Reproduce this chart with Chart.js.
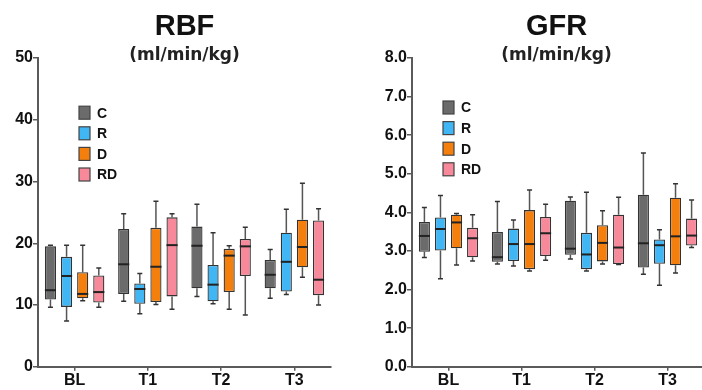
<!DOCTYPE html>
<html lang="en">
<head>
  <meta charset="UTF-8">
  <title>RBF / GFR</title>
  <script src="https://cdn.jsdelivr.net/npm/chart.js"></script>
  <style>
    html, body { margin: 0; padding: 0; background: #fff; overflow: hidden; }
    .panel { position: absolute; top: 0; }
  </style>
</head>
<body>
  <canvas id="rbfChart" class="panel" width="351" height="390" style="left:0"></canvas>
  <canvas id="gfrChart" class="panel" width="360" height="390" style="left:351px"></canvas>

  <script>
    const timePoints = ["BL", "T1", "T2", "T3"];
    const groupNames = ["C", "R", "D", "RD"];
    const groupColors = ["#6b6b6b", "#40b6f5", "#f57f0c", "#f7899b"];

    // [min, q1, median, q3, max] per time point
    const rbfC = [[9.65, 10.9, 12.4, 19.5, 19.7], [10.6, 11.8, 16.6, 22.3, 24.8], [11.4, 12.7, 19.6, 22.7, 26.3], [11.1, 12.7, 14.9, 17.3, 19.0]];
    const rbfR = [[7.4, 9.7, 14.7, 17.8, 19.7], [8.6, 10.2, 12.6, 13.5, 15.1], [10.2, 10.6, 13.3, 16.5, 21.7], [11.7, 12.2, 17.0, 21.7, 25.5]];
    const rbfD = [[10.7, 11.1, 11.8, 15.3, 19.7], [10.1, 10.5, 16.2, 22.5, 26.8], [9.3, 12.1, 18.0, 19.1, 19.6], [14.5, 16.1, 19.4, 23.8, 29.7]];
    const rbfRD = [[9.65, 10.4, 12.1, 14.8, 16.0], [9.3, 11.4, 19.7, 24.2, 24.8], [8.4, 14.7, 19.5, 20.7, 22.6], [10.0, 11.6, 14.1, 23.7, 25.6]];

    const gfrC = [[2.83, 2.98, 3.39, 3.75, 4.13], [2.66, 2.72, 2.84, 3.49, 4.28], [2.79, 2.90, 3.06, 4.30, 4.40], [2.40, 2.57, 3.20, 4.46, 5.54]];
    const gfrR = [[2.28, 3.01, 3.57, 3.87, 4.44], [2.61, 2.74, 3.18, 3.58, 3.80], [2.48, 2.53, 2.91, 3.47, 4.52], [2.11, 2.67, 3.15, 3.30, 3.55]];
    const gfrD = [[2.64, 3.07, 3.74, 3.94, 3.97], [2.48, 2.53, 3.18, 4.06, 4.58], [2.66, 2.73, 3.21, 3.67, 4.04], [2.43, 2.63, 3.38, 4.38, 4.74]];
    const gfrRD = [[2.74, 2.84, 3.33, 3.60, 3.94], [2.76, 2.87, 3.46, 3.88, 4.21], [2.65, 2.66, 3.09, 3.94, 4.39], [3.09, 3.14, 3.40, 3.84, 4.32]];

    const TICK_FONT = { family: "'Liberation Sans', Arial, sans-serif", size: 16, weight: "bold" };
    const AXIS_COLOR = "#5a5a5a";

    // whiskers, medians, titles and the inset legend
    const boxPlot = {
      id: "boxPlot",
      beforeDatasetsDraw(chart) {
        const ctx = chart.ctx, y = chart.scales.y;
        ctx.save();
        chart.data.datasets.forEach((ds, di) => {
          chart.getDatasetMeta(di).data.forEach((bar, i) => {
            const s = ds.stats[i];
            const yMin = y.getPixelForValue(s[0]), yQ1 = y.getPixelForValue(s[1]);
            const yQ3 = y.getPixelForValue(s[3]), yMax = y.getPixelForValue(s[4]);
            ctx.strokeStyle = "#555";
            ctx.lineWidth = 1.5;
            ctx.beginPath();
            ctx.moveTo(bar.x, yQ3); ctx.lineTo(bar.x, yMax);
            ctx.moveTo(bar.x, yQ1); ctx.lineTo(bar.x, yMin);
            ctx.stroke();
            ctx.strokeStyle = "#333";
            ctx.beginPath();
            ctx.moveTo(bar.x - 2.5, yMax); ctx.lineTo(bar.x + 2.5, yMax);
            ctx.moveTo(bar.x - 2.5, yMin); ctx.lineTo(bar.x + 2.5, yMin);
            ctx.stroke();
          });
        });
        ctx.restore();
      },
      afterDatasetsDraw(chart) {
        const ctx = chart.ctx, y = chart.scales.y;
        ctx.save();
        ctx.strokeStyle = "#222";
        ctx.lineWidth = 2;
        chart.data.datasets.forEach((ds, di) => {
          chart.getDatasetMeta(di).data.forEach((bar, i) => {
            const ym = y.getPixelForValue(ds.stats[i][2]);
            ctx.beginPath();
            ctx.moveTo(bar.x - bar.width / 2, ym);
            ctx.lineTo(bar.x + bar.width / 2, ym);
            ctx.stroke();
          });
        });
        ctx.restore();
      },
      afterDraw(chart, args, opts) {
        const ctx = chart.ctx, area = chart.chartArea;
        const cx = (area.left + area.right) / 2 + (opts.titleShift || 0);
        ctx.save();
        ctx.fillStyle = "#111";
        ctx.textAlign = "center";
        ctx.textBaseline = "alphabetic";
        ctx.font = "bold 29px 'Liberation Sans', Arial, sans-serif";
        ctx.fillText(opts.title, cx, 35);
        ctx.fillStyle = "#222";
        ctx.font = "bold 17px 'DejaVu Sans', Verdana, sans-serif";
        ctx.fillText(opts.subtitle, cx, 60);

        // legend
        ctx.textAlign = "left";
        ctx.textBaseline = "middle";
        ctx.font = "bold 14px 'Liberation Sans', Arial, sans-serif";
        chart.data.datasets.forEach((ds, di) => {
          const lx = area.left + opts.legendX;
          const ly = area.top + opts.legendY + di * 20.6;
          ctx.fillStyle = ds.backgroundColor;
          ctx.fillRect(lx, ly - 6.5, 11, 13);
          ctx.strokeStyle = "#444";
          ctx.lineWidth = 1.2;
          ctx.strokeRect(lx, ly - 6.5, 11, 13);
          ctx.fillStyle = "#111";
          ctx.fillText(ds.label, lx + 18, ly + 1);
        });
        ctx.restore();
      }
    };

    function makeBoxChart(id, series, yMax, yStep, decimals, axisWidth, padRight, extra) {
      new Chart(document.getElementById(id), {
        type: "bar",
        data: {
          labels: timePoints,
          datasets: series.map((stats, i) => ({
            label: groupNames[i],
            stats: stats,
            data: stats.map(s => [s[1], s[3]]),
            backgroundColor: groupColors[i],
            borderColor: "#333",
            borderWidth: 1.3,
            borderSkipped: false,
            categoryPercentage: 0.88,
            barPercentage: 0.69
          }))
        },
        options: {
          responsive: false,
          animation: false,
          layout: { padding: { top: 58, right: padRight, bottom: 0, left: 0 } },
          plugins: {
            legend: { display: false },
            tooltip: { enabled: false },
            boxPlot: extra
          },
          scales: {
            x: {
              offset: true,
              grid: { offset: false, drawOnChartArea: false, tickLength: 4, color: AXIS_COLOR, lineWidth: 1.5 },
              border: { color: AXIS_COLOR, width: 2 },
              ticks: { font: TICK_FONT, color: "#111", padding: 0 }
            },
            y: {
              min: 0,
              max: yMax,
              afterFit: s => { s.width = axisWidth; },
              grid: { drawOnChartArea: false, tickLength: 5, color: AXIS_COLOR, lineWidth: 1.5 },
              border: { color: AXIS_COLOR, width: 2 },
              ticks: {
                stepSize: yStep,
                font: TICK_FONT,
                color: "#111",
                padding: 0,
                callback: v => v.toFixed(decimals)
              }
            }
          }
        },
        plugins: [boxPlot]
      });
    }

    makeBoxChart("rbfChart", [rbfC, rbfR, rbfD, rbfRD], 50, 10, 0, 38, 20,
      { title: "RBF", subtitle: "(ml/min/kg)", legendX: 41, legendY: 54.7, titleShift: 0 });
    makeBoxChart("gfrChart", [gfrC, gfrR, gfrD, gfrRD], 8, 1, 1, 61, 7,
      { title: "GFR", subtitle: "(ml/min/kg)", legendX: 31, legendY: 49.5, titleShift: -1.5 });
  </script>
</body>
</html>
